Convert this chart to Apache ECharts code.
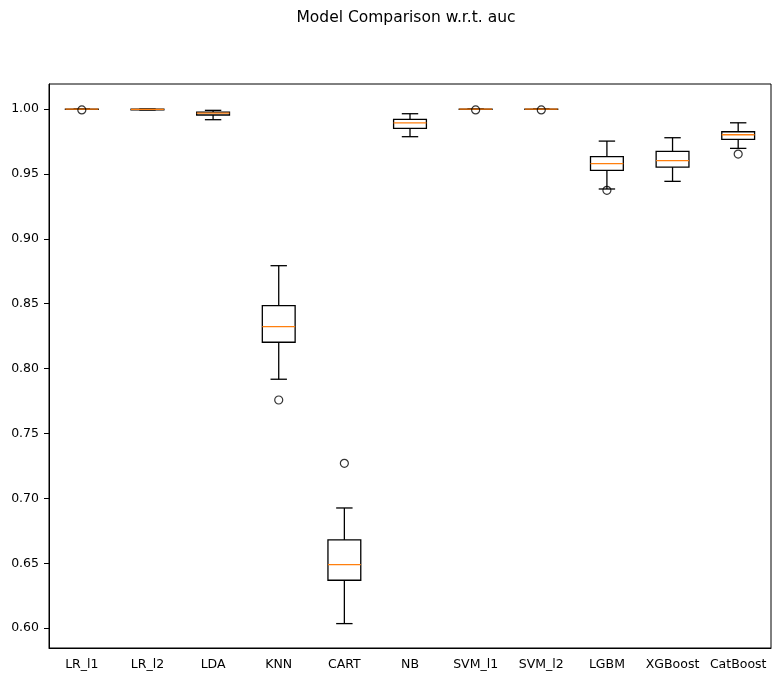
<!DOCTYPE html>
<html>
<head>
<meta charset="utf-8">
<script src="https://cdn.jsdelivr.net/npm/echarts@6/dist/echarts.min.js"></script>
<style>html,body{margin:0;padding:0;background:#fff;}#c{width:772px;height:675px;}</style>
</head>
<body>
<div id="c"></div>
<script>
const categories = ['LR_l1','LR_l2','LDA','KNN','CART','NB','SVM_l1','SVM_l2','LGBM','XGBoost','CatBoost'];
// [lower whisker, Q1, median, Q3, upper whisker]
const whiskerLow = [0.9998, 0.9993, 0.9918, 0.7918, 0.6035, 0.9787, 0.9998, 0.9998, 0.9384, 0.9443, 0.9697];
const q1         = [0.9998, 0.9993, 0.9954, 0.8203, 0.6369, 0.9851, 0.9998, 0.9998, 0.9528, 0.9553, 0.9767];
const medians    = [0.9999, 0.9998, 0.9969, 0.8323, 0.6489, 0.9894, 0.9999, 0.9999, 0.9579, 0.9602, 0.9802];
const q3         = [1.0000, 1.0000, 0.9977, 0.8485, 0.6680, 0.9921, 1.0000, 1.0000, 0.9633, 0.9674, 0.9825];
const whiskerHigh= [1.0000, 1.0000, 0.9990, 0.8793, 0.6926, 0.9964, 1.0000, 1.0000, 0.9753, 0.9779, 0.9894];
// outliers: [category index, value]
const outliers = [[0, 0.9993], [3, 0.7758], [4, 0.7270], [6, 0.9993], [7, 0.9993], [8, 0.9374], [10, 0.9653]];
const yTicks = [0.60, 0.65, 0.70, 0.75, 0.80, 0.85, 0.90, 0.95, 1.00];

const boxData = categories.map((c, i) => [i, whiskerLow[i], q1[i], medians[i], q3[i], whiskerHigh[i]]);

const chart = echarts.init(document.getElementById('c'), null, {renderer: 'canvas'});
const font = 'DejaVu Sans';
chart.setOption({
  animation: false,
  backgroundColor: '#fff',
  title: {
    text: 'Model Comparison w.r.t. auc',
    left: 401, top: 5, textAlign: 'center',
    textStyle: {fontFamily: font, fontSize: 15.5, fontWeight: 'normal', color: '#000'}
  },
  grid: {left: 49, right: 1, top: 84, bottom: 27, show: true, borderColor: '#000', borderWidth: 1, backgroundColor: 'transparent'},
  xAxis: {
    type: 'category', data: categories, boundaryGap: true,
    axisLine: {lineStyle: {color: '#000', width: 1}},
    axisTick: {alignWithLabel: true, length: 5, lineStyle: {color: '#000'}},
    axisLabel: {fontFamily: font, fontSize: 12.5, color: '#000', margin: 10, interval: 0},
    splitLine: {show: false}
  },
  yAxis: {
    type: 'value', min: 0.5847, max: 1.0193,
    axisLine: {show: true, lineStyle: {color: '#000', width: 1}},
    axisTick: {show: true, length: 5, lineStyle: {color: '#000'}, customValues: yTicks},
    axisLabel: {fontFamily: font, fontSize: 12.5, color: '#000', margin: 10, customValues: yTicks,
      formatter: v => v.toFixed(2)},
    splitLine: {show: false}
  },
  series: [
    {
      type: 'custom',
      data: boxData,
      encode: {x: 0, y: [1, 2, 3, 4, 5]},
      renderItem: function (params, api) {
        const idx = api.value(0);
        const band = api.size([1, 0])[0];
        const hw = band * 0.25, cw = band * 0.125;
        const pLo = api.coord([idx, api.value(1)]);
        const pQ1 = api.coord([idx, api.value(2)]);
        const pMed = api.coord([idx, api.value(3)]);
        const pQ3 = api.coord([idx, api.value(4)]);
        const pHi = api.coord([idx, api.value(5)]);
        const x = pQ1[0];
        const ls = {stroke: '#000', lineWidth: 1.3, fill: null};
        return {
          type: 'group',
          children: [
            {type: 'line', shape: {x1: x, y1: pLo[1], x2: x, y2: pQ1[1]}, style: ls},
            {type: 'line', shape: {x1: x, y1: pQ3[1], x2: x, y2: pHi[1]}, style: ls},
            {type: 'line', shape: {x1: x - cw, y1: pLo[1], x2: x + cw, y2: pLo[1]}, style: ls},
            {type: 'line', shape: {x1: x - cw, y1: pHi[1], x2: x + cw, y2: pHi[1]}, style: ls},
            {type: 'rect', shape: {x: x - hw, y: pQ3[1], width: 2 * hw, height: pQ1[1] - pQ3[1]}, style: {stroke: '#000', lineWidth: 1.3, fill: 'none'}},
            {type: 'line', shape: {x1: x - hw, y1: pMed[1], x2: x + hw, y2: pMed[1]}, style: {stroke: '#ff7f0e', lineWidth: 1.3}}
          ]
        };
      },
      z: 2
    },
    {
      type: 'scatter',
      data: outliers,
      symbol: 'circle', symbolSize: 8,
      itemStyle: {color: 'rgba(0,0,0,0)', borderColor: '#000', borderWidth: 1.2},
      z: 3
    }
  ]
});
</script>
</body>
</html>
